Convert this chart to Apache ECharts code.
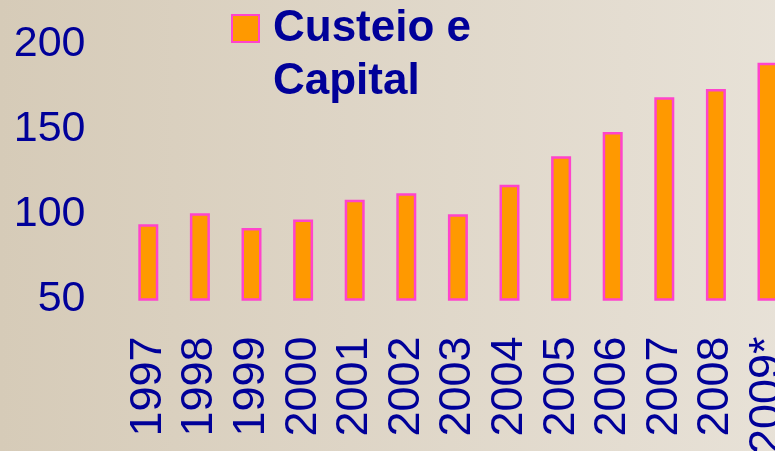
<!DOCTYPE html>
<html>
<head>
<meta charset="utf-8">
<script src="https://cdn.jsdelivr.net/npm/echarts@6/dist/echarts.min.js"></script>
<style>html,body{margin:0;padding:0;overflow:hidden;width:775px;height:451px;}#c{width:800px;height:451px;}</style>
</head>
<body>
<div id="c"></div>
<script>
var categories = ['1997','1998','1999','2000','2001','2002','2003','2004','2005','2006','2007','2008','2009*'];
var values = [94.2, 100.6, 92, 96.9, 108.6, 112.4, 100, 117.4, 134.1, 148.4, 168.7, 173.6, 189];
var seriesName = 'Custeio e Capital';
var yTicks = [50, 100, 150, 200];

var chart = echarts.init(document.getElementById('c'), null, {renderer: 'canvas'});
var textColor = '#000099';
chart.setOption({
  animation: false,
  backgroundColor: {
    type: 'linear', x: 0, y: 0, x2: 1, y2: 0,
    colorStops: [{offset: 0, color: '#d6cbb8'}, {offset: 1, color: '#e8e2d8'}]
  },
  legend: {
    left: 226, top: -56,
    itemWidth: 27, itemHeight: 27,
    icon: 'rect',
    formatter: function () { return ' \nCusteio e\nCapital'; },
    textStyle: {
      color: textColor, fontFamily: 'Liberation Sans, Arial', fontWeight: 'bold',
      fontSize: 44, lineHeight: 53, padding: [0, 0, 0, 9]
    },
    itemStyle: {borderColor: '#ff44cc', borderWidth: 2}
  },
  grid: {left: 122.5, right: 6.7, top: 44, bottom: 151.5, containLabel: false, outerBoundsMode: 'none'},
  xAxis: {
    type: 'category', data: categories,
    axisLine: {show: false}, axisTick: {show: false},
    axisLabel: {
      rotate: 90, margin: 37, interval: 0,
      color: textColor, fontFamily: 'Liberation Sans, Arial', fontSize: 45
    }
  },
  yAxis: {
    type: 'value', min: yTicks[0], max: yTicks[yTicks.length - 1], interval: 50,
    axisLine: {show: false}, axisTick: {show: false}, splitLine: {show: false},
    axisLabel: {margin: 37, color: textColor, fontFamily: 'Liberation Sans, Arial', fontSize: 43}
  },
  series: [{
    name: seriesName, type: 'bar', data: values, barWidth: 20,
    itemStyle: {color: '#ff9900', borderColor: '#ff44cc', borderWidth: 2.5}
  }]
});
</script>
</body>
</html>
